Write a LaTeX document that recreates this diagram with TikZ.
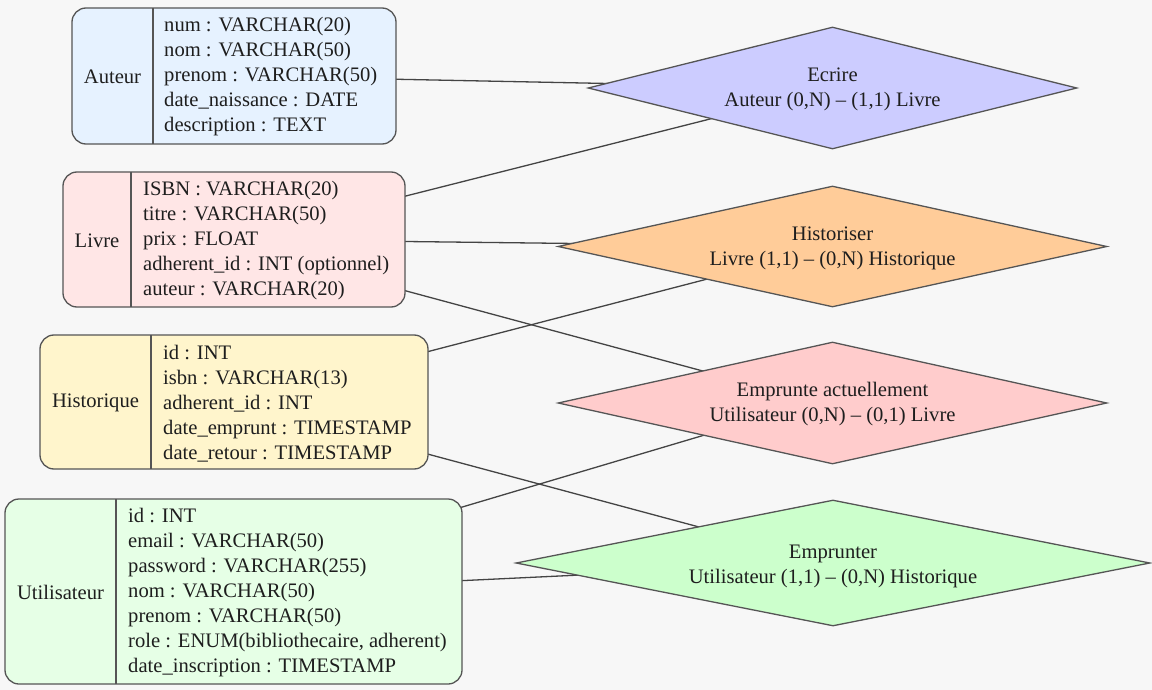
\documentclass[tikz,border=0pt]{standalone}
\usepackage{fontspec}
\setmainfont{Liberation Serif}
\usetikzlibrary{shapes.geometric}
\pgfdeclarelayer{bg}
\pgfdeclarelayer{edges}
\pgfsetlayers{bg,edges,main}
\definecolor{bgc}{HTML}{F7F7F7}
\definecolor{strk}{HTML}{555555}
\definecolor{edgec}{HTML}{444444}
\definecolor{txt}{HTML}{1E1E1E}
\definecolor{cAut}{HTML}{E6F2FF}
\definecolor{cLiv}{HTML}{FFE6E6}
\definecolor{cHis}{HTML}{FFF5CC}
\definecolor{cUti}{HTML}{E6FFE6}
\definecolor{dEcr}{HTML}{CCCCFF}
\definecolor{dHis}{HTML}{FFCC99}
\definecolor{dEmA}{HTML}{FFCCCC}
\definecolor{dEmp}{HTML}{CCFFCC}
\tikzset{
  ent/.style={draw=strk, line width=1.3pt, rounded corners=14pt, inner sep=0pt},
  rel/.style={diamond, draw=strk, line width=1.3pt, inner sep=0pt, shape aspect=4},
  lab/.style={text=txt, font=\rmfamily\fontsize{20.6}{25}\selectfont, inner sep=0pt},
  fields/.style={text=txt, font=\rmfamily\fontsize{20.6}{25}\selectfont, inner sep=0pt, align=left, anchor=west},
  divider/.style={draw=strk, line width=1.3pt},
  link/.style={draw=edgec, line width=1.3pt}
}
\begin{document}
\begin{tikzpicture}[x=1pt,y=-1pt]
\begin{pgfonlayer}{bg}
\fill[bgc] (0,0) rectangle (1152,690);
\end{pgfonlayer}
\useasboundingbox (0,0) rectangle (1152,690);

% Entities
\node[ent, fill=cAut, minimum width=324pt, minimum height=136pt] (aut) at (234,76) {};
\draw[divider] (153,8) -- (153,144);
\node[lab] (autL) at (112.5,77) {Auteur};
\node[fields] (autF) at (164,77) {num : VARCHAR(20)\\nom : VARCHAR(50)\\prenom : VARCHAR(50)\\date\_naissance : DATE\\description : TEXT};

\node[ent, fill=cLiv, minimum width=342pt, minimum height=135pt] (liv) at (234,239.5) {};
\draw[divider] (131,172) -- (131,307);
\node[lab] (livL) at (97,240.5) {Livre};
\node[fields] (livF) at (143,240.5) {ISBN : VARCHAR(20)\\titre : VARCHAR(50)\\prix : FLOAT\\adherent\_id : INT (optionnel)\\auteur : VARCHAR(20)};

\node[ent, fill=cHis, minimum width=388pt, minimum height=134pt] (his) at (234,402) {};
\draw[divider] (151,335) -- (151,469);
\node[lab] (hisL) at (95.5,403) {Historique};
\node[fields] (hisF) at (163,404) {id : INT\\isbn : VARCHAR(13)\\adherent\_id : INT\\date\_emprunt : TIMESTAMP\\date\_retour : TIMESTAMP};

\node[ent, fill=cUti, minimum width=457pt, minimum height=185pt] (uti) at (233.5,591.5) {};
\draw[divider] (116,499) -- (116,684);
\node[lab] (utiL) at (60.5,592.5) {Utilisateur};
\node[fields] (utiF) at (128,592.5) {id : INT\\email : VARCHAR(50)\\password : VARCHAR(255)\\nom : VARCHAR(50)\\prenom : VARCHAR(50)\\role : ENUM(bibliothecaire, adherent)\\date\_inscription : TIMESTAMP};

% Relations
\node[rel, fill=dEcr, minimum width=489pt, minimum height=122pt] (ecr) at (832.5,88) {};
\node[lab, align=center] (ecrT) at (832.5,89.5) {Ecrire\\Auteur (0,N) – (1,1) Livre};

\node[rel, fill=dHis, minimum width=549pt, minimum height=121pt] (hist) at (832.5,246.5) {};
\node[lab, align=center] (histT) at (832.5,248) {Historiser\\Livre (1,1) – (0,N) Historique};

\node[rel, fill=dEmA, minimum width=549pt, minimum height=122pt] (ema) at (832.5,403) {};
\node[lab, align=center] (emaT) at (832.5,404.5) {Emprunte actuellement\\Utilisateur (0,N) – (0,1) Livre};

\node[rel, fill=dEmp, minimum width=634pt, minimum height=126pt] (emp) at (833,563) {};
\node[lab, align=center] (empT) at (833,566) {Emprunter\\Utilisateur (1,1) – (0,N) Historique};

% Links (behind nodes)
\begin{pgfonlayer}{edges}
\draw[link] (aut.center) -- (ecr.center);
\draw[link] (liv.center) -- (ecr.center);
\draw[link] (liv.center) -- (hist.center);
\draw[link] (his.center) -- (hist.center);
\draw[link] ([yshift=-5pt]liv.center) -- ([yshift=-3pt]ema.center);
\draw[link] ([yshift=16.5pt]uti.center) -- ([yshift=6pt]ema.center);
\draw[link] (his.center) -- (emp.center);
\draw[link] (uti.center) -- (emp.center);
\end{pgfonlayer}
\end{tikzpicture}
\end{document}
